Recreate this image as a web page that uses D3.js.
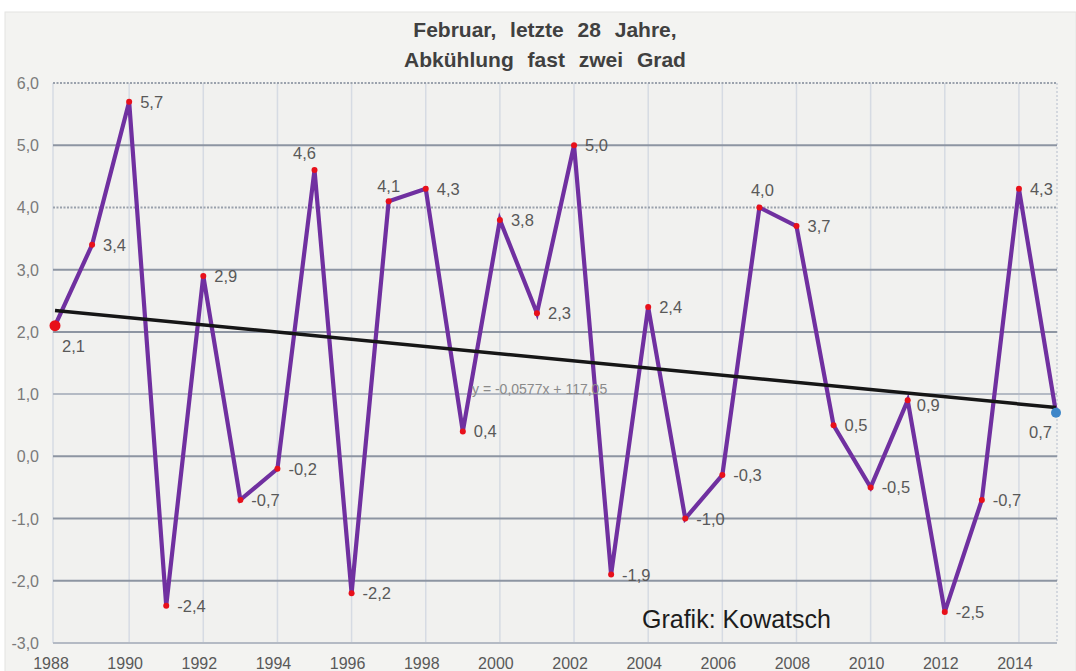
<!DOCTYPE html>
<html>
<head>
<meta charset="utf-8">
<script src="https://cdn.jsdelivr.net/npm/d3@7"></script>
<style>
  body { margin: 0; background: #ffffff; }
  svg { display: block; font-family: "Liberation Sans", Arial, sans-serif; }
</style>
</head>
<body>
<svg id="drawing_region"></svg>
<script>
// Februar-Mittel, 1988 - 2015
const years = [1988, 1989, 1990, 1991, 1992, 1993, 1994, 1995, 1996, 1997,
               1998, 1999, 2000, 2001, 2002, 2003, 2004, 2005, 2006, 2007,
               2008, 2009, 2010, 2011, 2012, 2013, 2014, 2015];
const temps = [2.1, 3.4, 5.7, -2.4, 2.9, -0.7, -0.2, 4.6, -2.2, 4.1,
               4.3, 0.4, 3.8, 2.3, 5.0, -1.9, 2.4, -1.0, -0.3, 4.0,
               3.7, 0.5, -0.5, 0.9, -2.5, -0.7, 4.3, 0.7];
const yTicks = [-3, -2, -1, 0, 1, 2, 3, 4, 5, 6];
const xTickLabels = ["1988", "1990", "1992", "1994", "1996", "1998", "2000",
                     "2002", "2004", "2006", "2008", "2010", "2012", "2014"];
const trendSlope = -0.0577;
const trendIntercept = 117.05;
const trendText = "y = -0,0577x + 117,05";
const titleLines = ["Februar, letzte 28 Jahre,", "Abkühlung fast zwei Grad"];

// label placement that differs from "right of the point"
const labelPos = {
    1988: {dx: 7, dy: 20, anchor: 'start'},
    1995: {dx: -10, dy: -17, anchor: 'middle'},
    1997: {dx: 0, dy: -15, anchor: 'middle'},
    2007: {dx: 3, dy: -17, anchor: 'middle'},
    2011: {dx: 9, dy: 5, anchor: 'start'},
    2015: {dx: -4, dy: 19, anchor: 'end'}
};

const de = d3.formatLocale({decimal: ",", thousands: ".", grouping: [3], currency: ["", " €"], minus: "-"});
const fmt = de.format(".1f");

class LineChart {

    constructor( config ) {
        this.config = config;
        this.data = years.map( (y, i) => ({year: y, value: temps[i]}) );
        this.init();
    }

    init() {
        let self = this;

        self.svg = d3.select( self.config.parent )
            .attr('width', self.config.width)
            .attr('height', self.config.height);

        self.xscale = d3.scaleLinear()
            .domain( [1988, 2015] )
            .range( [55, 1056] );

        self.yscale = d3.scaleLinear()
            .domain( [-3, 6] )
            .range( [643, 83] );
    }

    render() {
        let self = this;
        const x = self.xscale, y = self.yscale;
        const x0 = 53, x1 = 1057;

        // panel
        self.svg.append('rect')
            .attr('x', 5).attr('y', 12)
            .attr('width', 1071).attr('height', 660)
            .attr('fill', '#f3f3f1')
            .attr('stroke', '#e4e4e2');

        self.svg.append('rect')
            .attr('x', x0).attr('y', y(6))
            .attr('width', x1 - x0).attr('height', y(-3) - y(6))
            .attr('fill', '#f1f1ef');

        // vertical grid
        self.svg.append('g')
            .selectAll('line')
            .data(xTickLabels.slice(1))
            .join('line')
            .attr('x1', d => x(+d)).attr('x2', d => x(+d))
            .attr('y1', y(6)).attr('y2', y(-3))
            .attr('stroke', '#d6dbe3')
            .attr('stroke-width', 1.5);

        self.svg.append('line')
            .attr('x1', x0).attr('x2', x0)
            .attr('y1', y(6)).attr('y2', y(-3))
            .attr('stroke', '#d6dbe3').attr('stroke-width', 1.5);
        self.svg.append('line')
            .attr('x1', x1).attr('x2', x1)
            .attr('y1', y(6)).attr('y2', y(-3))
            .attr('stroke', '#c9ced8').attr('stroke-width', 1.5)
            .attr('stroke-dasharray', '2,2');

        // horizontal grid
        const dotted = [6, 4];
        const light = [1, -3];
        self.svg.append('g')
            .selectAll('line')
            .data(yTicks)
            .join('line')
            .attr('x1', x0).attr('x2', x1)
            .attr('y1', d => y(d)).attr('y2', d => y(d))
            .attr('stroke', d => light.includes(d) ? '#b4bac4' : (dotted.includes(d) ? '#9aa1ac' : '#8d95a2'))
            .attr('stroke-width', 2)
            .attr('stroke-dasharray', d => dotted.includes(d) ? '2,1.5' : null);

        // y labels
        self.svg.append('g')
            .selectAll('text')
            .data(yTicks)
            .join('text')
            .attr('x', 39)
            .attr('y', d => y(d) + 6)
            .attr('text-anchor', 'end')
            .attr('font-size', '16px')
            .attr('fill', '#7a7a7a')
            .text(d => fmt(d));

        // x labels
        self.svg.append('g')
            .selectAll('text')
            .data(xTickLabels)
            .join('text')
            .attr('x', d => x(+d) - 4)
            .attr('y', 669)
            .attr('text-anchor', 'middle')
            .attr('font-size', '16px')
            .attr('fill', '#595959')
            .text(d => d);

        // data line
        const line = d3.line()
            .x(d => x(d.year))
            .y(d => y(d.value));

        self.svg.append('path')
            .datum(self.data)
            .attr('d', line)
            .attr('fill', 'none')
            .attr('stroke', '#7030a0')
            .attr('stroke-width', 4.2)
            .attr('stroke-linejoin', 'miter');

        // trend line
        const ends = [years[0], years[years.length - 1]];
        self.svg.append('line')
            .attr('x1', x(ends[0])).attr('y1', y(trendSlope * ends[0] + trendIntercept))
            .attr('x2', x(ends[1])).attr('y2', y(trendSlope * ends[1] + trendIntercept))
            .attr('stroke', '#161616')
            .attr('stroke-width', 3.5);

        self.svg.append('text')
            .attr('x', 472)
            .attr('y', 394)
            .attr('font-size', '14px')
            .attr('fill', '#8a8a8a')
            .text(trendText);

        // markers
        const last = self.data.length - 1;
        self.svg.append('g')
            .selectAll('circle')
            .data(self.data)
            .join('circle')
            .attr('cx', d => x(d.year))
            .attr('cy', d => y(d.value))
            .attr('r', (d, i) => i === 0 ? 5.5 : (i === last ? 5 : 3))
            .attr('fill', (d, i) => i === last ? '#3d86c8' : '#e8101a');

        // value labels
        self.svg.append('g')
            .selectAll('text')
            .data(self.data)
            .join('text')
            .attr('x', d => x(d.year) + (labelPos[d.year] ? labelPos[d.year].dx : 11))
            .attr('y', d => y(d.value) + 6 + (labelPos[d.year] ? labelPos[d.year].dy : 0))
            .attr('text-anchor', d => labelPos[d.year] ? labelPos[d.year].anchor : 'start')
            .attr('font-size', '16.5px')
            .attr('fill', '#595959')
            .text(d => fmt(d.value));

        // title
        self.svg.append('g')
            .selectAll('text')
            .data(titleLines)
            .join('text')
            .attr('x', 545)
            .attr('y', (d, i) => 37 + i * 30)
            .attr('text-anchor', 'middle')
            .attr('font-size', '21px')
            .attr('font-weight', 700)
            .attr('word-spacing', '8px')
            .attr('fill', '#404040')
            .text(d => d);

        self.svg.append('text')
            .attr('x', 642)
            .attr('y', 628)
            .attr('font-size', '25px')
            .attr('fill', '#1c1c1c')
            .text('Grafik: Kowatsch');
    }
}

const chart = new LineChart({
    parent: '#drawing_region',
    width: 1076,
    height: 671
});
chart.render();
</script>
</body>
</html>
